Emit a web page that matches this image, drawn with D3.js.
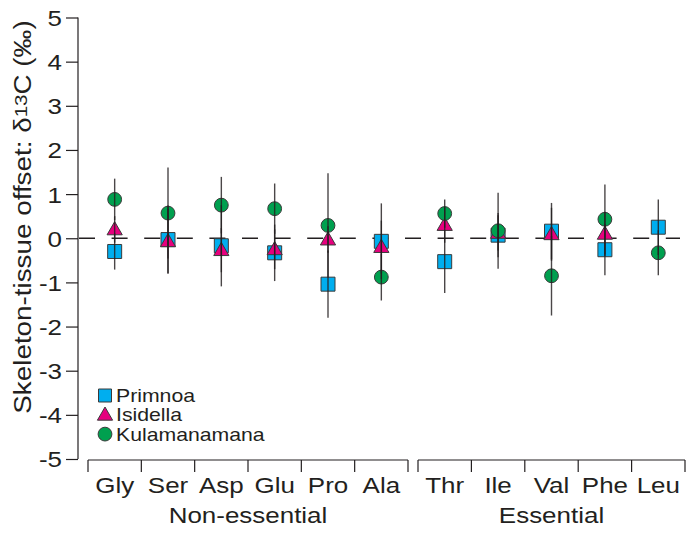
<!DOCTYPE html>
<html><head><meta charset="utf-8">
<script src="https://cdn.jsdelivr.net/npm/d3@7"></script>
<style>body{margin:0;background:#fff}svg{display:block}text{font-family:"Liberation Sans",Arial,sans-serif;fill:#231f20}</style>
</head><body>
<script>
const nonEssential = ["Gly","Ser","Asp","Glu","Pro","Ala"];
const essential = ["Thr","Ile","Val","Phe","Leu"];
const categories = nonEssential.concat(essential);
const yTicks = [5,4,3,2,1,0,-1,-2,-3,-4,-5];
const groupLabels = ["Non-essential","Essential"];
const seriesNames = ["Primnoa","Isidella","Kulamanamana"];
// mean offsets (‰), order follows categories
const primnoa     = [-0.30,-0.03,-0.17,-0.33,-1.04,-0.07,-0.53, 0.07, 0.16,-0.26, 0.25];
const isidella    = [ 0.20,-0.07,-0.27,-0.25,-0.03,-0.20, 0.30, 0.12, 0.09, 0.10, null];
const kulamanamana= [ 0.88, 0.57, 0.75, 0.67, 0.29,-0.88, 0.56, 0.17,-0.85, 0.43,-0.33];
// error half-widths
const primnoaErr  = [0.41,0.77,0.92,0.64,0.76,0.86,0.71,0.50,0.64,0.58,0.63];
const isidellaErr = [0.30,0.73,0.50,0.45,0.30,0.60,0.40,0.40,0.60,0.50,null];
const kulaErr     = [0.47,1.03,0.64,0.57,1.18,0.53,0.32,0.86,0.90,0.79,0.51];

const W=687,H=537;
const SX=1.18; // glyph widening to match reference lettering
const svg=d3.select("body").append("svg").attr("width",W).attr("height",H);
const ink="#231f20";
const y=d3.scaleLinear().domain([-5,5]).range([459,17.5]);
const xN=d3.scaleBand().domain(nonEssential).range([88,408]);
const xE=d3.scaleBand().domain(essential).range([418,685]);
const xc=c=> nonEssential.includes(c)? xN(c)+xN.bandwidth()/2 : xE(c)+xE.bandwidth()/2;

function label(g,x,yy,txt,size,anchor){
  return g.append("text").attr("transform",`translate(${x},${yy}) scale(${SX},1)`)
    .attr("text-anchor",anchor||"middle").attr("font-size",size).text(txt);
}

// y axis
const yAxis=d3.axisLeft(y).tickValues(yTicks).tickSize(12).tickPadding(4).tickFormat(d=>String(d));
const ga=svg.append("g").attr("transform","translate(78,0)").call(yAxis);
ga.select(".domain").attr("stroke",ink).attr("stroke-width",1.2).attr("d","M0,"+y(5)+"V"+y(-5));
ga.selectAll(".tick line").attr("stroke",ink).attr("stroke-width",1.2);
ga.selectAll(".tick text").attr("font-size",22).attr("font-family","Liberation Sans, Arial, sans-serif")
  .attr("fill",ink).attr("x",0).attr("dy","0.36em").attr("transform",`translate(-16,0) scale(${SX},1)`);

// y title
const yt=svg.append("text").attr("transform","translate(31,217) rotate(-90) scale(1.21,1)").attr("text-anchor","middle").attr("font-size",23);
yt.append("tspan").text("Skeleton-tissue offset: δ");
yt.append("tspan").attr("font-size",17).attr("dy",-4).text("13");
yt.append("tspan").attr("dy",4).text("C (‰)");

// zero dashed line
svg.append("line").attr("x1",79).attr("x2",680).attr("y1",y(0)).attr("y2",y(0))
  .attr("stroke",ink).attr("stroke-width",1.3).attr("stroke-dasharray","16,16.6");

// bottom brackets
[[xN,nonEssential],[xE,essential]].forEach(([sc,dom],gi)=>{
  const r=sc.range();
  const g=svg.append("g");
  g.append("line").attr("x1",r[0]).attr("x2",r[1]).attr("y1",460).attr("y2",460).attr("stroke",ink).attr("stroke-width",1.2);
  const bounds=dom.map(d=>sc(d)).concat([r[1]]);
  g.selectAll("line.t").data(bounds).join("line").attr("class","t")
    .attr("x1",d=>d).attr("x2",d=>d).attr("y1",460).attr("y2",472).attr("stroke",ink).attr("stroke-width",1.2);
  dom.forEach(d=>label(g,sc(d)+sc.bandwidth()/2,493,d,22));
  label(g,(r[0]+r[1])/2,523,groupLabels[gi],22);
});

// markers
const symType={Primnoa:d3.symbolSquare,Isidella:d3.symbolTriangle,Kulamanamana:d3.symbolCircle};
const symSize={Primnoa:196,Isidella:100,Kulamanamana:150};
const fills={Primnoa:"#00aeef",Isidella:"#e6007e",Kulamanamana:"#00a04f"};
const series=[["Primnoa",primnoa,primnoaErr],["Isidella",isidella,isidellaErr],["Kulamanamana",kulamanamana,kulaErr]];
const gm=svg.append("g");
series.forEach(([name,vals])=>{
  gm.selectAll(null).data(categories.map((c,i)=>({c,v:vals[i]})).filter(d=>d.v!=null)).join("path")
    .attr("d",d3.symbol(symType[name],symSize[name])).attr("transform",d=>`translate(${xc(d.c)},${y(d.v)+(name==="Isidella"?1:0)})`)
    .attr("fill",fills[name]).attr("stroke","#3a3a3a").attr("stroke-width",1);
});
// error bars
const ge=svg.append("g");
series.forEach(([name,vals,errs])=>{
  ge.selectAll(null).data(categories.map((c,i)=>({c,v:vals[i],e:errs[i]})).filter(d=>d.v!=null)).join("line")
    .attr("x1",d=>xc(d.c)).attr("x2",d=>xc(d.c)).attr("y1",d=>y(d.v+d.e)).attr("y2",d=>y(d.v-d.e))
    .attr("stroke",ink).attr("stroke-width",1.4).attr("stroke-opacity",0.82);
});

// legend
const lg=svg.append("g");
seriesNames.forEach((n,i)=>{
  const cy=395.5+i*19.3;
  lg.append("path").attr("d",d3.symbol(symType[n],n==="Primnoa"?169:n==="Isidella"?100:150))
    .attr("transform",`translate(105,${cy+(n==="Isidella"?1:0)})`).attr("fill",fills[n]).attr("stroke","#3a3a3a").attr("stroke-width",1);
  label(lg,116,cy+6.5,n,18,"start");
});
</script>
</body></html>
